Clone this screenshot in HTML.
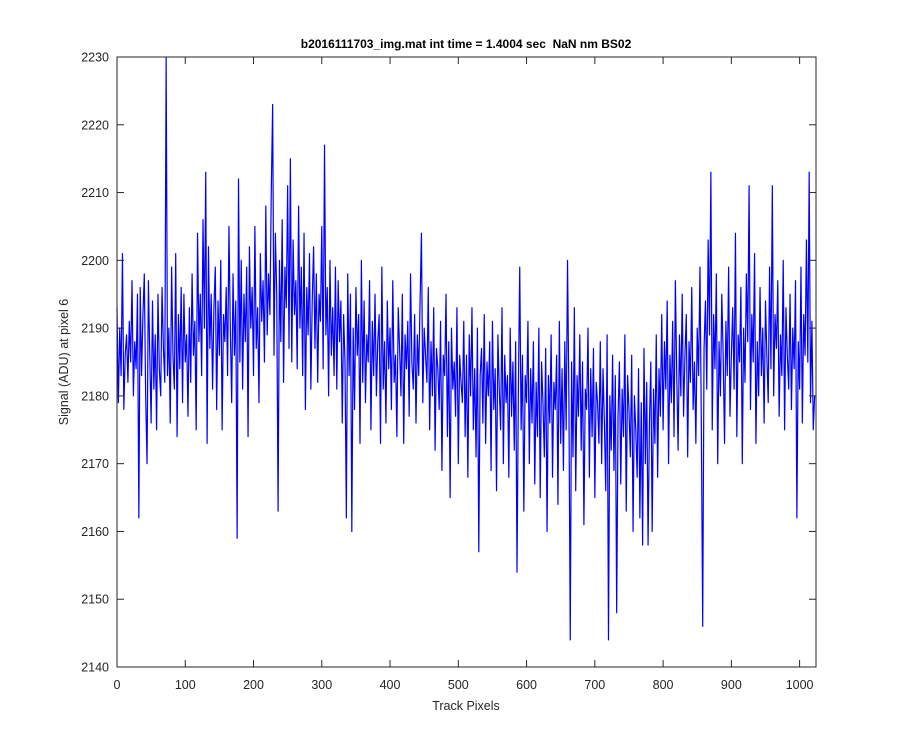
<!DOCTYPE html>
<html><head><meta charset="utf-8"><style>
body{margin:0;background:#fff;}
svg{display:block;font-family:"Liberation Sans",Arial,sans-serif;}
</style></head><body>
<svg id="chart" width="900" height="750" xmlns="http://www.w3.org/2000/svg">
<rect width="900" height="750" fill="#fff"/>
<text x="466" y="48" text-anchor="middle" font-size="12" font-weight="bold" fill="#000">b2016111703_img.mat int time = 1.4004 sec &#160;NaN nm BS02</text>
<g id="plot"></g>
<g id="axes"></g>
<text x="466" y="710" text-anchor="middle" font-size="12.5" fill="#262626">Track Pixels</text>
<text transform="translate(68,362) rotate(-90)" text-anchor="middle" font-size="12.5" fill="#262626">Signal (ADU) at pixel 6</text>
</svg>
<script>
const xTicks=[0,100,200,300,400,500,600,700,800,900,1000];
const yTicks=[2140,2150,2160,2170,2180,2190,2200,2210,2220,2230];
const xStep=2;
const signal=[
2193,2179,2190,2183,2201,2178,2186,2189,2182,2191,2185,2197,2180,2188,2184,2195,
2162,2196,2183,2192,2198,2180,2170,2197,2186,2176,2194,2181,2189,2175,2195,2184,
2180,2196,2187,2182,2230,2183,2190,2176,2199,2186,2181,2201,2174,2192,2184,2196,
2179,2195,2185,2189,2177,2193,2182,2198,2186,2191,2175,2204,2188,2195,2183,2206,
2190,2213,2173,2202,2187,2195,2181,2193,2199,2178,2194,2186,2200,2175,2192,2188,
2196,2183,2205,2190,2179,2198,2186,2194,2159,2212,2185,2200,2181,2195,2188,2199,
2174,2202,2190,2196,2183,2205,2187,2193,2179,2201,2191,2197,2185,2208,2189,2198,
2192,2210,2223,2186,2204,2195,2163,2200,2188,2206,2182,2199,2193,2211,2187,2215,
2185,2203,2192,2197,2184,2208,2190,2199,2183,2204,2178,2196,2189,2201,2181,2194,
2202,2187,2198,2182,2195,2191,2205,2184,2217,2189,2196,2180,2200,2186,2193,2183,
2199,2181,2197,2188,2194,2176,2192,2185,2162,2198,2183,2195,2160,2190,2178,2196,
2186,2192,2173,2200,2182,2194,2179,2189,2185,2197,2175,2191,2183,2195,2180,2188,
2192,2173,2199,2181,2188,2176,2194,2184,2190,2178,2197,2182,2186,2174,2193,2187,
2180,2195,2173,2189,2184,2191,2177,2198,2185,2181,2192,2176,2189,2183,2194,2204,
2179,2190,2186,2182,2196,2175,2188,2180,2193,2172,2187,2184,2178,2191,2169,2186,
2183,2195,2174,2188,2165,2190,2181,2185,2177,2193,2170,2186,2182,2179,2191,2174,
2186,2168,2189,2180,2193,2175,2184,2171,2190,2157,2183,2187,2176,2192,2173,2185,
2180,2188,2169,2191,2178,2184,2166,2189,2181,2175,2193,2170,2186,2179,2183,2168,
2190,2177,2185,2172,2188,2154,2181,2199,2175,2186,2163,2183,2179,2191,2170,2184,
2176,2188,2167,2182,2174,2190,2165,2185,2179,2171,2187,2160,2183,2176,2189,2168,
2182,2178,2186,2164,2191,2173,2184,2169,2188,2175,2200,2180,2144,2185,2171,2193,
2166,2183,2177,2189,2172,2185,2161,2181,2178,2190,2168,2184,2174,2187,2165,2182,
2179,2173,2188,2170,2184,2176,2166,2189,2144,2180,2172,2186,2169,2183,2148,2177,
2185,2167,2181,2174,2189,2163,2183,2178,2171,2186,2160,2180,2175,2168,2184,2162,
2179,2158,2187,2170,2182,2158,2176,2185,2160,2181,2173,2189,2168,2184,2177,2192,
2175,2188,2181,2194,2170,2186,2179,2191,2174,2197,2183,2172,2189,2180,2195,2177,
2186,2192,2171,2188,2182,2196,2178,2185,2173,2190,2183,2199,2176,2146,2187,2194,
2181,2203,2189,2213,2175,2192,2184,2198,2170,2188,2180,2195,2186,2173,2191,2183,
2199,2177,2186,2193,2181,2204,2174,2189,2185,2196,2170,2190,2182,2198,2188,2211,
2178,2192,2185,2201,2173,2188,2180,2196,2183,2190,2176,2194,2186,2179,2199,2184,
2211,2180,2192,2187,2197,2177,2189,2183,2200,2175,2193,2186,2181,2195,2178,2190,
2184,2197,2162,2188,2181,2199,2176,2192,2186,2203,2185,2213,2179,2191,2175,2180
];
const L=117,R=816,T=57,B=667,XMAX=1024,YMIN=2140,YMAX=2230;
const sx=v=>L+(v/XMAX)*(R-L);
const sy=v=>B-(v-YMIN)/(YMAX-YMIN)*(B-T);
const NS="http://www.w3.org/2000/svg";
const plot=document.getElementById('plot'),axes=document.getElementById('axes');
function mk(tag,attrs,parent){const e=document.createElementNS(NS,tag);for(const k in attrs)e.setAttribute(k,attrs[k]);parent.appendChild(e);return e;}
const bg=mk('rect',{x:L,y:T,width:R-L,height:B-T,fill:'#fff'},plot);


const pts=signal.map((v,i)=>sx(i*xStep).toFixed(2)+','+sy(v).toFixed(2)).join(' ');
const line=mk('polyline',{points:pts,fill:'none',stroke:'#0000ff','stroke-width':1.2,'stroke-linejoin':'round'},plot);


const box=mk('rect',{x:L,y:T,width:R-L,height:B-T,fill:'none',stroke:'#262626','stroke-width':1},axes);


xTicks.forEach(t=>{const x=sx(t);
mk('line',{x1:x,x2:x,y1:B,y2:B-7,stroke:'#262626'},axes);
mk('line',{x1:x,x2:x,y1:T,y2:T+7,stroke:'#262626'},axes);
const tx=mk('text',{x:x,y:B+22,'text-anchor':'middle','font-size':12.5,fill:'#262626'},axes);tx.textContent=t;

});
yTicks.forEach(t=>{const y=sy(t);
mk('line',{x1:L,x2:L+7,y1:y,y2:y,stroke:'#262626'},axes);
mk('line',{x1:R,x2:R-7,y1:y,y2:y,stroke:'#262626'},axes);
const tx=mk('text',{x:L-8,y:y+4.5,'text-anchor':'end','font-size':12.5,fill:'#262626'},axes);tx.textContent=t;

});
</script>
</body></html>
